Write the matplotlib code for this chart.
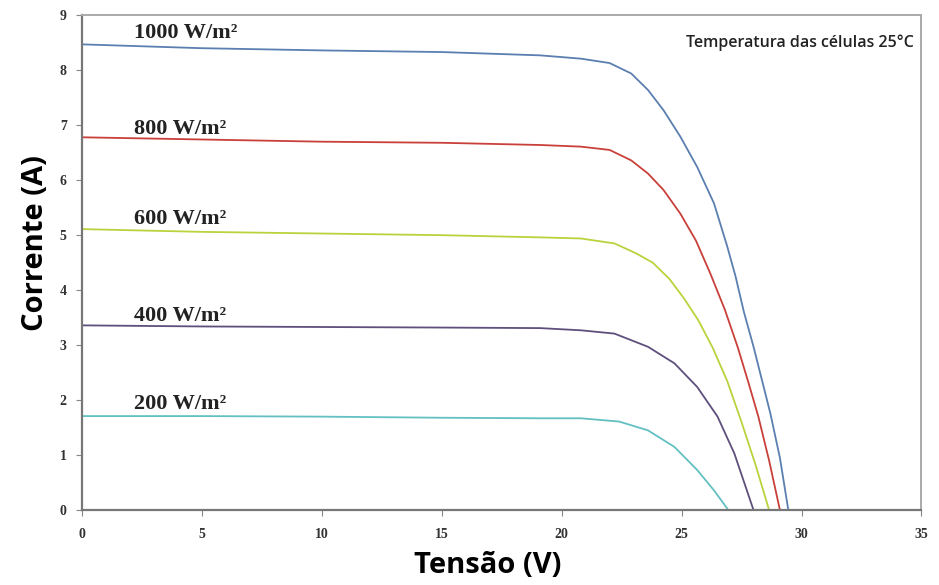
from matplotlib import pyplot as plt
import numpy as np

# I-V curves (V, A)
v_1000 = [0, 5, 10, 15, 19.1, 20.8, 22.0, 22.9, 23.6, 24.25, 24.95, 25.65, 26.35,
          26.9, 27.25, 27.6, 28.0, 28.7, 29.1, 29.45]
i_1000 = [8.47, 8.40, 8.36, 8.33, 8.27, 8.21, 8.13, 7.94, 7.64, 7.27, 6.79, 6.24, 5.58,
          4.80, 4.25, 3.60, 2.97, 1.76, 0.95, 0]

v_800 = [0, 5, 10, 15, 19.1, 20.8, 22.0, 22.9, 23.6, 24.25, 24.95, 25.6, 26.2,
         26.8, 27.35, 27.8, 28.2, 28.65, 29.1]
i_800 = [6.78, 6.74, 6.70, 6.68, 6.64, 6.61, 6.55, 6.36, 6.12, 5.82, 5.39, 4.90, 4.30,
         3.65, 2.95, 2.30, 1.70, 0.90, 0]

v_600 = [0, 5, 10, 15, 19.1, 20.8, 22.2, 23.1, 23.8, 24.5, 25.1, 25.7, 26.3, 26.9,
         27.5, 28.1, 28.65]
i_600 = [5.11, 5.06, 5.03, 5.00, 4.96, 4.94, 4.85, 4.67, 4.50, 4.20, 3.85, 3.45, 2.95,
         2.35, 1.60, 0.80, 0]

v_400 = [0, 5, 10, 15, 19.1, 20.8, 22.2, 23.6, 24.7, 25.65, 26.5, 27.2, 28.0]
i_400 = [3.36, 3.34, 3.33, 3.32, 3.31, 3.27, 3.21, 2.97, 2.67, 2.24, 1.70, 1.03, 0]

v_200 = [0, 5, 10, 15, 19.1, 20.8, 22.4, 23.6, 24.7, 25.65, 26.35, 26.95]
i_200 = [1.71, 1.71, 1.70, 1.68, 1.67, 1.67, 1.61, 1.45, 1.15, 0.73, 0.36, 0]

labels = ["1000 W/m²", "800 W/m²", "600 W/m²", "400 W/m²", "200 W/m²"]
label_y = [8.68, 6.93, 5.30, 3.53, 1.93]
colors = ["#5a7fb0", "#c9403a", "#b9d33c", "#5e4f7c", "#62c0c2"]

curves = [(v_1000, i_1000), (v_800, i_800), (v_600, i_600), (v_400, i_400), (v_200, i_200)]

fig = plt.figure(figsize=(9.39, 5.85), dpi=100)
ax = fig.add_axes([0.0873, 0.128, 0.894, 0.846])

for (v, i), c in zip(curves, colors):
    ax.plot(v, i, color=c, lw=1.3)

for lab, y in zip(labels, label_y):
    ax.text(2.15, y, lab, family="Liberation Serif", fontweight="bold",
            fontsize=16, color="#222222", va="center")

ax.text(34.7, 8.5, "Temperatura das células 25°C", fontsize=11.5,
        family="Open Sans", fontweight="semibold", ha="right", va="center",
        color="#222222")

ax.set_xlim(0, 35)
ax.set_ylim(0, 9)
ax.set_xticks(np.arange(0, 36, 5))
ax.set_yticks(np.arange(0, 10, 1))
for lab in ax.get_xticklabels() + ax.get_yticklabels():
    lab.set_family("Liberation Serif")
    lab.set_fontweight("bold")
    lab.set_fontsize(10)
    lab.set_color("#333333")
ax.tick_params(axis="x", length=4, color="#888888", pad=9)
ax.tick_params(axis="y", length=4, color="#888888", pad=7)

for side in ["left", "bottom"]:
    ax.spines[side].set_color("#777777")
    ax.spines[side].set_linewidth(1.6)
for side in ["top", "right"]:
    ax.spines[side].set_color("#aaaaaa")
    ax.spines[side].set_linewidth(1.4)

ax.set_xlabel("Tensão (V)", family="Open Sans", fontweight="bold", fontsize=21)
ax.set_ylabel("Corrente (A)", family="Open Sans", fontweight="bold", fontsize=21)
ax.xaxis.set_label_coords(0.483, -0.083)
ax.yaxis.set_label_coords(-0.038, 0.54)

fig.savefig("out.png", dpi=100)
